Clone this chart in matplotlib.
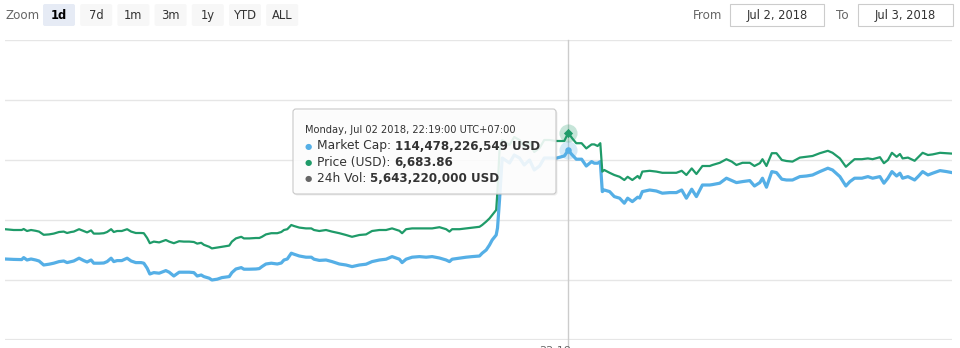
import numpy as np
import matplotlib
matplotlib.use("Agg")
import matplotlib.pyplot as plt
from matplotlib.patches import FancyBboxPatch, Rectangle

# time of each sample, minutes after 00:00 Jul 2 2018 (UTC+07:00)
minutes = [495, 508, 520, 523, 528, 534, 541, 546, 553, 561, 568, 576, 583, 588, 594, 598,
           606, 613, 618, 624, 628, 636, 643, 648, 654, 658, 663, 670, 678, 684, 691, 699,
           703, 708, 712, 718, 726, 736, 741, 748, 756, 763, 771, 778, 783, 789, 793, 801,
           805, 813, 820, 831, 835, 841, 849, 853, 861, 871, 876, 880, 886, 894, 903, 909,
           913, 918, 924, 928, 936, 946, 954, 958, 966, 976, 985, 996, 1006, 1015, 1026, 1036,
           1045, 1056, 1066, 1075, 1086, 1090, 1096, 1105, 1116, 1126, 1135, 1146, 1156, 1161, 1165, 1176,
           1186, 1195, 1206, 1210, 1216, 1221, 1225, 1231, 1233, 1236, 1240, 1251, 1258, 1266, 1273, 1281,
           1288, 1296, 1303, 1311, 1321, 1333, 1339, 1345, 1351, 1359, 1366, 1374, 1378, 1383, 1387, 1390,
           1393, 1401, 1408, 1416, 1423, 1428, 1435, 1443, 1446, 1450, 1461, 1471, 1480, 1491, 1501, 1509,
           1516, 1524, 1531, 1540, 1551, 1555, 1566, 1576, 1584, 1591, 1600, 1611, 1618, 1626, 1630, 1636,
           1644, 1651, 1659, 1666, 1675, 1686, 1696, 1705, 1716, 1728, 1735, 1746, 1755, 1761, 1768, 1779,
           1788, 1795, 1806, 1812, 1818, 1824, 1831, 1836, 1840, 1848, 1858, 1864, 1870, 1878, 1885, 1896,
           1906, 1914]

# price in USD
price = [6443, 6441, 6441, 6443.5, 6438.5, 6441, 6439, 6437, 6429, 6430, 6432, 6436, 6437, 6433.5, 6436, 6437,
         6443, 6438.5, 6435, 6440, 6432, 6432, 6433, 6436, 6443, 6436, 6438.5, 6438.5, 6443, 6437, 6433.5, 6433.5,
         6433, 6421, 6408, 6412, 6410, 6416, 6412, 6408, 6413, 6412, 6412, 6411, 6407, 6409, 6404, 6399,
         6395, 6397, 6399, 6402, 6412, 6420, 6424, 6420, 6420, 6421, 6421, 6424, 6430, 6433, 6433, 6436,
         6441, 6443, 6453.5, 6451, 6447, 6445, 6445, 6441, 6438.5, 6441, 6437, 6433, 6428.5, 6424, 6428.5, 6430,
         6438.5, 6441, 6441, 6445, 6439, 6433, 6443, 6445, 6445, 6445, 6445, 6448, 6443, 6437, 6443, 6443,
         6445, 6447, 6449, 6453.5, 6462, 6470, 6478.5, 6491, 6541, 6641, 6666, 6653.5, 6673.5, 6666, 6648.5, 6661,
         6636, 6646, 6666, 6666, 6663.5, 6663.5, 6683.86, 6670, 6658, 6658, 6645, 6655, 6655, 6651, 6658, 6587,
         6591, 6584, 6578.5, 6574, 6566, 6574, 6566, 6576, 6570, 6587, 6589, 6587, 6584, 6584, 6584, 6589,
         6578.5, 6595, 6581, 6601, 6601, 6603.5, 6609, 6618, 6612, 6603.5, 6609, 6609, 6601, 6608, 6618, 6601,
         6633, 6633, 6616, 6613.5, 6612, 6622, 6624, 6626, 6633, 6639, 6634, 6620, 6599, 6608, 6618, 6618,
         6620, 6618, 6623, 6608, 6616, 6634, 6624, 6631, 6620, 6622, 6614, 6624, 6634, 6628.5, 6630, 6634,
         6633, 6632]

# market cap in billion USD
market_cap = [109.05, 109.03, 109.02, 109.12, 109.00, 109.05, 109.00, 108.95, 108.75, 108.79, 108.84, 108.92, 108.95, 108.87, 108.92, 108.95,
              109.09, 108.97, 108.90, 109.00, 108.84, 108.84, 108.85, 108.92, 109.09, 108.92, 108.97, 108.97, 109.09, 108.95, 108.87, 108.87,
              108.84, 108.59, 108.30, 108.37, 108.34, 108.47, 108.39, 108.20, 108.39, 108.39, 108.39, 108.37, 108.20, 108.25, 108.17, 108.09,
              108.00, 108.04, 108.12, 108.17, 108.37, 108.55, 108.62, 108.54, 108.54, 108.55, 108.57, 108.67, 108.80, 108.84, 108.80, 108.85,
              109.00, 109.05, 109.34, 109.29, 109.20, 109.14, 109.14, 109.04, 108.98, 109.00, 108.92, 108.80, 108.75, 108.67, 108.75, 108.79,
              108.92, 109.00, 109.04, 109.17, 109.04, 108.87, 109.04, 109.14, 109.17, 109.14, 109.17, 109.10, 109.00, 108.92, 109.04, 109.09,
              109.14, 109.17, 109.20, 109.34, 109.50, 109.75, 110.00, 110.25, 110.60, 112.00, 114.10, 113.85, 114.25, 114.10, 113.75, 114.00,
              113.50, 113.70, 114.10, 114.10, 114.09, 114.20, 114.478, 114.25, 114.04, 114.04, 113.70, 113.92, 113.84, 113.84, 113.92, 112.42,
              112.50, 112.42, 112.17, 112.09, 111.84, 112.09, 111.92, 112.14, 112.10, 112.42, 112.50, 112.45, 112.34, 112.37, 112.37, 112.50,
              112.09, 112.54, 112.17, 112.75, 112.75, 112.77, 112.84, 113.09, 112.97, 112.87, 112.92, 112.97, 112.70, 112.87, 113.09, 112.64,
              113.42, 113.37, 113.04, 113.00, 113.00, 113.17, 113.20, 113.25, 113.42, 113.59, 113.50, 113.17, 112.70, 112.92, 113.09, 113.09,
              113.17, 113.09, 113.17, 112.84, 113.09, 113.42, 113.20, 113.34, 113.09, 113.17, 113.00, 113.20, 113.42, 113.25, 113.34, 113.47,
              113.42, 113.37]

hover_minute = 1339
hover_header = "Monday, Jul 02 2018, 22:19:00 UTC+07:00"
hover_rows = [("Market Cap: ", "114,478,226,549 USD"),
              ("Price (USD): ", "6,683.86"),
              ("24h Vol: ", "5,643,220,000 USD")]
zoom_buttons = ["1d", "7d", "1m", "3m", "1y", "YTD", "ALL"]
date_from = "Jul 2, 2018"
date_to = "Jul 3, 2018"

GREEN = "#1f9b69"
BLUE = "#55afe6"
GREY = "#666666"

t = np.array(minutes)
price = np.array(price)
market_cap = np.array(market_cap)

fig = plt.figure(figsize=(9.6, 3.48), dpi=100)
W, H = 960, 348

# plot area in pixels: x 5..952, y 40..340
cap_ax = fig.add_axes([5 / W, 8 / H, 947 / W, 300 / H])
price_ax = cap_ax.twinx()
price_ax.set_zorder(cap_ax.get_zorder() + 1)
price_ax.patch.set_visible(False)

cap_ax.plot(t, market_cap, color=BLUE, lw=2.3, solid_joinstyle="round")
price_ax.plot(t, price, color=GREEN, lw=1.6, solid_joinstyle="round")

cap_ax.set_xlim(t[0], t[-1])
cap_ax.set_ylim(105, 120)
price_ax.set_ylim(6166, 6916)

cap_ax.set_yticks(np.arange(105, 121, 3))
cap_ax.grid(axis="y", color="#e6e6e6", lw=1)
cap_ax.axhline(105, color="#e6e6e6", lw=1.6)
for a in (cap_ax, price_ax):
    for s in a.spines.values():
        s.set_visible(False)
    a.tick_params(length=0, labelleft=False, labelright=False, labelbottom=False)
cap_ax.set_xticks([])

# crosshair
cap_ax.axvline(hover_minute, ymin=-0.03, ymax=1, color="#cccccc", lw=1, clip_on=False)
hi = list(minutes).index(hover_minute)
cap_ax.scatter([t[hi]], [market_cap[hi]], s=170, color=BLUE, alpha=0.25, lw=0, zorder=5)
cap_ax.scatter([t[hi]], [market_cap[hi]], s=22, color=BLUE, lw=0, zorder=6)
price_ax.scatter([t[hi]], [price[hi]], s=170, color=GREEN, alpha=0.25, lw=0, zorder=5)
price_ax.scatter([t[hi]], [price[hi]], s=22, marker="D", color=GREEN, lw=0, zorder=6)

# overlay in pixel units for the range selector and tooltip
ov = fig.add_axes([0, 0, 1, 1], zorder=20)
ov.set_xlim(0, W)
ov.set_ylim(H, 0)
ov.axis("off")
ov.patch.set_visible(False)

ov.text(5, 15.5, "Zoom", fontsize=8.6, color=GREY, va="center", ha="left")
for i, lab in enumerate(zoom_buttons):
    x0 = 43 + i * 37.2
    sel = i == 0
    ov.add_patch(FancyBboxPatch((x0, 4), 32, 22, boxstyle="round,pad=0,rounding_size=2",
                                fc="#e6ebf5" if sel else "#f7f7f7", ec="none"))
    ov.text(x0 + 16, 15.5, lab, fontsize=8.3, ha="center", va="center",
            color="black" if sel else "#333333", fontweight="bold" if sel else "normal")

ov.text(693, 15.5, "From", fontsize=8.6, color=GREY, va="center")
ov.add_patch(Rectangle((730, 4), 94, 22, fc="white", ec="#cccccc", lw=0.8))
ov.text(777, 15.5, date_from, fontsize=8.3, color="#333333", ha="center", va="center")
ov.text(836, 15.5, "To", fontsize=8.6, color=GREY, va="center")
ov.add_patch(Rectangle((858, 4), 95, 22, fc="white", ec="#cccccc", lw=0.8))
ov.text(905.5, 15.5, date_to, fontsize=8.3, color="#333333", ha="center", va="center")

# tooltip
ov.add_patch(FancyBboxPatch((294.5, 110.5), 263, 85, boxstyle="round,pad=0,rounding_size=3",
                            fc="black", alpha=0.07, ec="none"))
ov.add_patch(FancyBboxPatch((293, 109), 263, 85, boxstyle="round,pad=0,rounding_size=3",
                            fc=(1, 1, 1, 0.88), ec="#c8c8c8", lw=0.8))
ov.text(305, 130, hover_header, fontsize=7.1, color="#333333", va="center")

fig.canvas.draw()
rend = fig.canvas.get_renderer()
dots = [BLUE, GREEN, GREY]
for k, (lab, val) in enumerate(hover_rows):
    y = 146 + k * 16.3
    ov.text(305, y, "\u25CF", fontsize=6, color=dots[k], va="center")
    t1 = ov.text(317, y, lab, fontsize=8.8, color="#333333", va="center")
    x1 = t1.get_window_extent(rend).x1
    ov.text(x1, y, val, fontsize=8.6, color="#333333", va="center", fontweight="bold")

# crosshair label, cut off at the bottom edge as in the original
ov.text(555, 345.5, "22:19", fontsize=8, color=GREY, ha="center", va="top")

fig.savefig("out.png", dpi=100)
